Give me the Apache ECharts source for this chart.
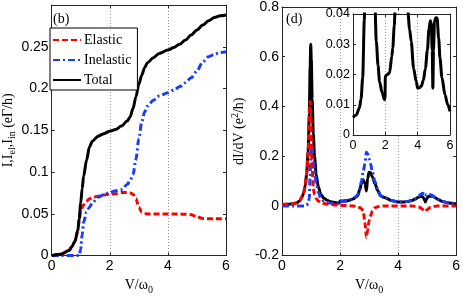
<!DOCTYPE html>
<html>
<head>
<meta charset="utf-8">
<script src="https://cdn.jsdelivr.net/npm/echarts@6/dist/echarts.min.js"></script>
<style>
html,body{margin:0;padding:0;background:#fff;}
#chart{width:463px;height:300px;}
</style>
</head>
<body>
<div id="chart"></div>
<script>
// ---------- Panel (b): currents ----------
const vLeft = [0, 0.3, 0.6, 0.7, 0.8, 0.9, 0.95, 1.0, 1.05, 1.1, 1.2, 1.3, 1.4, 1.6, 1.8, 2.0, 2.2, 2.4, 2.6, 2.7, 2.8, 2.9, 3.0, 3.1, 3.2, 3.3, 3.5, 3.7, 4.0, 4.2, 4.4, 4.6, 4.8, 5.0, 5.2, 5.4, 5.6, 5.8, 6.0];
const elasticI = [0, 0.0015, 0.006, 0.011, 0.017, 0.03, 0.044, 0.055, 0.058, 0.061, 0.065, 0.068, 0.0695, 0.071, 0.0725, 0.0735, 0.074, 0.0755, 0.0755, 0.075, 0.0735, 0.068, 0.058, 0.052, 0.0505, 0.0498, 0.0497, 0.0497, 0.0497, 0.0497, 0.0497, 0.0496, 0.049, 0.0465, 0.0445, 0.0441, 0.0441, 0.0441, 0.0441];
const inelasticI = [0, 0, 0, 0, 0, 0, 0, 0.008, 0.025, 0.04, 0.052, 0.058, 0.063, 0.07, 0.073, 0.0755, 0.0775, 0.079, 0.085, 0.09, 0.097, 0.115, 0.14, 0.16, 0.172, 0.179, 0.186, 0.191, 0.195, 0.198, 0.202, 0.207, 0.213, 0.221, 0.232, 0.238, 0.241, 0.243, 0.244];
const totalI = [0, 0.0015, 0.006, 0.011, 0.017, 0.03, 0.044, 0.063, 0.08, 0.095, 0.114, 0.13, 0.137, 0.143, 0.146, 0.149, 0.151, 0.155, 0.161, 0.166, 0.176, 0.19, 0.205, 0.216, 0.225, 0.231, 0.237, 0.242, 0.246, 0.249, 0.253, 0.258, 0.264, 0.27, 0.276, 0.281, 0.285, 0.287, 0.288];

// ---------- Panel (d): differential conductance ----------
const vRight = [0, 0.2, 0.4, 0.5, 0.6, 0.7, 0.75, 0.8, 0.85, 0.9, 0.94, 0.97, 0.99, 1.01, 1.04, 1.08, 1.12, 1.18, 1.25, 1.34, 1.44, 1.55, 1.64, 1.8, 1.95, 1.98, 2.0, 2.1, 2.26, 2.4, 2.46, 2.55, 2.61, 2.68, 2.74, 2.8, 2.86, 2.91, 2.95, 3.0, 3.05, 3.12, 3.2, 3.3, 3.39, 3.5, 3.6, 3.75, 3.91, 4.0, 4.1, 4.22, 4.35, 4.48, 4.6, 4.7, 4.78, 4.84, 4.9, 4.94, 4.98, 5.04, 5.12, 5.2, 5.3, 5.38, 5.5, 5.69, 5.85, 6.0];
const totalG = [0.0058, 0.0066, 0.009, 0.012, 0.019, 0.038, 0.055, 0.08, 0.13, 0.22, 0.37, 0.56, 0.65, 0.59, 0.43, 0.29, 0.2, 0.125, 0.078, 0.046, 0.031, 0.023, 0.0177, 0.014, 0.0117, 0.012, 0.0195, 0.0199, 0.0205, 0.026, 0.0288, 0.036, 0.042, 0.065, 0.09, 0.104, 0.09, 0.06, 0.11, 0.135, 0.134, 0.115, 0.09, 0.062, 0.041, 0.035, 0.031, 0.022, 0.0177, 0.0155, 0.0156, 0.0161, 0.018, 0.0221, 0.028, 0.035, 0.0378, 0.037, 0.028, 0.0155, 0.028, 0.0376, 0.0388, 0.0387, 0.032, 0.0255, 0.019, 0.0133, 0.0102, 0.0078];
const elasticG = [0.0058, 0.0066, 0.009, 0.012, 0.019, 0.038, 0.055, 0.08, 0.13, 0.21, 0.34, 0.42, 0.38, 0.28, 0.15, 0.07, 0.045, 0.03, 0.02, 0.014, 0.01, 0.007, 0.006, 0.004, 0.003, 0.003, 0.002, 0.002, 0.001, 0, 0, -0.002, -0.004, -0.007, -0.012, -0.02, -0.07, -0.126, -0.1, -0.06, -0.04, -0.02, -0.008, -0.003, -0.001, 0, 0, 0, 0, 0, 0, 0, 0, 0, -0.002, -0.004, -0.008, -0.014, -0.02, -0.022, -0.018, -0.012, -0.006, -0.003, -0.001, 0, 0, 0, 0, 0];
const inelasticG = [0, 0, 0, 0, 0, 0, 0, 0, 0.002, 0.01, 0.03, 0.12, 0.2, 0.25, 0.24, 0.19, 0.14, 0.09, 0.055, 0.031, 0.021, 0.016, 0.012, 0.01, 0.0087, 0.009, 0.0175, 0.018, 0.019, 0.026, 0.029, 0.038, 0.046, 0.07, 0.1, 0.14, 0.17, 0.216, 0.21, 0.19, 0.17, 0.135, 0.098, 0.065, 0.042, 0.035, 0.031, 0.022, 0.0177, 0.0155, 0.0156, 0.0161, 0.018, 0.0221, 0.03, 0.039, 0.046, 0.051, 0.048, 0.038, 0.046, 0.05, 0.045, 0.04, 0.032, 0.0255, 0.019, 0.0133, 0.0102, 0.0078];

const seriesNames = ['Elastic', 'Inelastic', 'Total'];
const xRange = [0, 6, 2];
const yRangeI = [0, 0.3, 0.05];
const yRangeG = [-0.2, 0.8, 0.2];
const yRangeInset = [0, 0.04, 0.01];

const pairs = (xs, ys) => xs.map((x, i) => [x, ys[i]]);

const AX = '#262626';
const SANS = '"Liberation Sans Narrow", "Liberation Sans"';
const SERIF = 'Liberation Serif';
const RED = '#ff0000', BLUE = '#1a3cff', BLACK = '#000000';

function axisBase(range, gridIndex, opts) {
  return Object.assign({
    type: 'value', gridIndex: gridIndex,
    min: range[0], max: range[1], interval: range[2],
    axisLine: {show: true, onZero: false, lineStyle: {color: AX, width: 1}},
    axisTick: {show: true, inside: true, length: 3, lineStyle: {color: AX, width: 1}},
    axisLabel: {show: true, color: '#000', fontFamily: SANS, fontSize: 14, margin: 4},
    splitLine: {show: false}
  }, opts || {});
}
function mirror(range, gridIndex, pos, z) {
  return axisBase(range, gridIndex, {position: pos, axisLabel: {show: false}, z: z || 0});
}

const dotted = {show: true, lineStyle: {type: [1, 2], color: '#9a9a9a', width: 1}};
const xName = '{a|V/ω}{s|0}';
const nameRich = {
  a: {fontFamily: SERIF, fontSize: 14, color: '#000'},
  s: {fontFamily: SERIF, fontSize: 10, color: '#000', padding: [9, 0, 0, 0]},
  p: {fontFamily: SERIF, fontSize: 10, color: '#000', padding: [0, 0, 9, 0]}
};

const chart = echarts.init(document.getElementById('chart'), null, {renderer: 'canvas'});
const lw = 3;
const styleE = {color: RED, width: lw, type: [6, 3]};
const styleI = {color: BLUE, width: lw, type: [7, 3, 2, 3]};
const styleT = {color: BLACK, width: lw, type: 'solid'};

function line(name, data, xi, yi, ls, z) {
  return {
    name: name, type: 'line', xAxisIndex: xi, yAxisIndex: yi, data: data,
    showSymbol: false, symbol: 'none', smooth: 0.3, smoothMonotone: 'x',
    lineStyle: ls, itemStyle: {color: ls.color}, z: z, clip: true, animation: false
  };
}

chart.setOption({
  animation: false,
  grid: [
    {left: 48, top: 5, width: 178, height: 254},
    {left: 282, top: 6, width: 178, height: 253},
    {left: 353, top: 14, width: 97, height: 121, show: true, backgroundColor: '#fff', borderWidth: 0, z: 5}
  ],
  xAxis: [
    axisBase(xRange, 0, {splitLine: dotted, name: xName, nameLocation: 'middle', nameGap: 19,
      nameTextStyle: {rich: nameRich}}),
    mirror(xRange, 0, 'top'),
    axisBase(xRange, 1, {splitLine: dotted, name: xName, nameLocation: 'middle', nameGap: 19,
      nameTextStyle: {rich: nameRich}}),
    mirror(xRange, 1, 'top'),
    axisBase(xRange, 2, {z: 6, splitLine: dotted, axisLabel: {color: '#000', fontFamily: SANS, fontSize: 12.5, margin: 4}}),
    mirror(xRange, 2, 'top', 6)
  ],
  yAxis: [
    axisBase(yRangeI, 0, {
      axisLabel: {color: '#000', fontFamily: SANS, fontSize: 14, margin: 3,
        formatter: v => Math.abs(v - yRangeI[1]) < 1e-9 ? '' : String(+v.toFixed(3))},
      name: '{a|I,I}{s|el}{a|,I}{s|in}{a| (eΓ/h)}', nameLocation: 'middle', nameGap: 27,
      nameTextStyle: {rich: nameRich}
    }),
    mirror(yRangeI, 0, 'right'),
    axisBase(yRangeG, 1, {
      axisLabel: {color: '#000', fontFamily: SANS, fontSize: 14, margin: 3,
        formatter: v => String(+v.toFixed(3))},
      name: '{a|dI/dV (e}{p|2}{a|/h)}', nameLocation: 'middle', nameGap: 33,
      nameTextStyle: {rich: nameRich}
    }),
    mirror(yRangeG, 1, 'right'),
    axisBase(yRangeInset, 2, {z: 6,
      axisLabel: {color: '#000', fontFamily: SANS, fontSize: 12.5, margin: 3,
        formatter: v => String(+v.toFixed(3))}}),
    mirror(yRangeInset, 2, 'right', 6)
  ],
  legend: {
    data: seriesNames, orient: 'vertical', left: 50, top: 28,
    itemWidth: 28, itemHeight: 14, itemGap: 6,
    padding: [5, 6, 3, 2],
    backgroundColor: '#fff', borderColor: '#000', borderWidth: 1, borderRadius: 0,
    textStyle: {fontFamily: SERIF, fontSize: 14, color: '#000', padding: [0, 0, 0, -2]},
    itemStyle: {opacity: 0},
    z: 10, selectedMode: false
  },
  graphic: [
    {type: 'text', left: 53, top: 12, z: 10, style: {text: '(b)', font: '14px "Liberation Serif"', fill: '#000'}},
    {type: 'text', left: 286, top: 12, z: 10, style: {text: '(d)', font: '14px "Liberation Serif"', fill: '#000'}}
  ],
  series: [
    line(seriesNames[0], pairs(vLeft, elasticI), 0, 0, styleE, 2),
    line(seriesNames[1], pairs(vLeft, inelasticI), 0, 0, styleI, 3),
    line(seriesNames[2], pairs(vLeft, totalI), 0, 0, styleT, 4),
    line(seriesNames[2], pairs(vRight, totalG), 2, 2, styleT, 2),
    line(seriesNames[1], pairs(vRight, inelasticG), 2, 2, styleI, 3),
    line(seriesNames[0], pairs(vRight, elasticG), 2, 2, styleE, 4),
    line(seriesNames[2], pairs(vRight, totalG), 4, 4, styleT, 7)
  ]
});
</script>
</body>
</html>
